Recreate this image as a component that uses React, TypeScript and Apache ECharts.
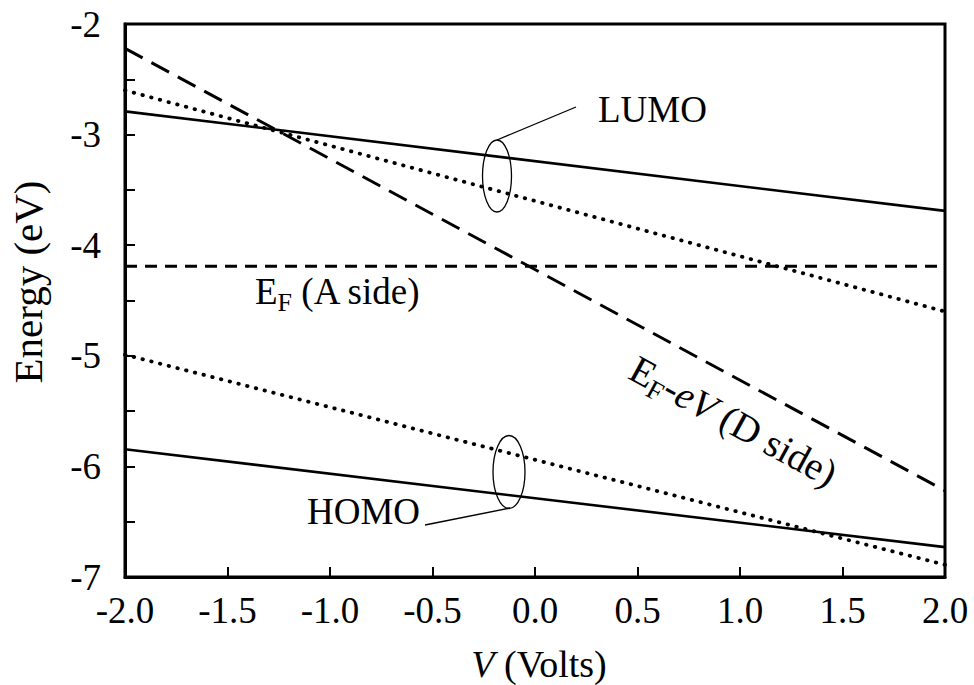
import React, { useEffect, useRef } from "react";
import * as echarts from "echarts";

// ---- data ----
const voltage = [-2.0, 2.0];
const lumoSolid = [-2.79, -3.69];
const lumoDotted = [-2.6, -4.6];
const efASide = [-4.19, -4.19];
const efDSide = [-2.22, -6.22];
const homoDotted = [-4.99, -6.89];
const homoSolid = [-5.845, -6.73];

const xTicks = { min: -2, max: 2, interval: 0.5 };
const yTicks = { min: -7, max: -2, interval: 0.5 };

const FONT = "'Liberation Serif', 'Times New Roman', serif";

function pairs(ys: number[]) {
  return voltage.map((v, i) => [v, ys[i]]);
}

let measureCtx: CanvasRenderingContext2D | null = null;
function tw(text: string, size: number, italic = false) {
  if (!measureCtx) measureCtx = document.createElement("canvas").getContext("2d");
  measureCtx!.font = `${italic ? "italic " : ""}${size}px ${FONT}`;
  return measureCtx!.measureText(text).width;
}

type Part = { t: string; size: number; italic?: boolean; dy?: number };
function pieces(parts: Part[]) {
  let x = 0;
  const children: any[] = [];
  parts.forEach((p) => {
    children.push({
      type: "text",
      x,
      y: p.dy || 0,
      style: {
        text: p.t,
        fontSize: p.size,
        fontFamily: FONT,
        fontStyle: p.italic ? "italic" : "normal",
        fill: "#000",
        align: "left",
        verticalAlign: "middle",
      },
    });
    x += tw(p.t, p.size, p.italic);
  });
  return { children, width: x };
}

export default function App() {
  const ref = useRef<HTMLDivElement>(null);
  useEffect(() => {
    if (!ref.current) return;
    const chart = echarts.init(ref.current, null, { renderer: "svg" });

    const efA = pieces([
      { t: "E", size: 37 },
      { t: "F", size: 26, dy: 11 },
      { t: " (A side)", size: 37 },
    ]);
    const efD = pieces([
      { t: "E", size: 39 },
      { t: "F", size: 27, dy: 11 },
      { t: "-", size: 39 },
      { t: "eV", size: 39, italic: true },
      { t: " (D side)", size: 39 },
    ]);
    const xTitle = pieces([
      { t: "V", size: 38, italic: true },
      { t: " (Volts)", size: 38 },
    ]);

    const ell = (cx: number, cy: number, rx: number, ry: number) => ({
      type: "ellipse",
      shape: { cx, cy, rx, ry },
      style: { fill: "none", stroke: "#000", lineWidth: 1.3 },
      z: 100,
    });
    const seg = (x1: number, y1: number, x2: number, y2: number) => ({
      type: "line",
      shape: { x1, y1, x2, y2 },
      style: { stroke: "#000", lineWidth: 1.3 },
      z: 100,
    });
    const label = (text: string, x: number, y: number, size = 36) => ({
      type: "text",
      x,
      y,
      style: {
        text,
        fontSize: size,
        fontFamily: FONT,
        fill: "#000",
        align: "left",
        verticalAlign: "middle",
      },
      z: 100,
    });

    const lineSeries = (name: string, ys: number[], type: any, width: number, cap = "butt") => ({
      name,
      type: "line",
      data: pairs(ys),
      showSymbol: false,
      symbol: "none",
      lineStyle: { color: "#000", width, type, cap },
      z: 5,
    });

    chart.setOption({
      animation: false,
      backgroundColor: "#fff",
      grid: {
        left: 125,
        right: 29,
        top: 24,
        bottom: 108,
        show: true,
        borderColor: "#000",
        borderWidth: 3,
        backgroundColor: "transparent",
      },
      xAxis: {
        type: "value",
        min: xTicks.min,
        max: xTicks.max,
        interval: xTicks.interval,
        axisLine: { show: true, onZero: false, lineStyle: { color: "#000", width: 3 } },
        axisTick: { show: true, inside: true, length: 10, lineStyle: { color: "#000", width: 2 } },
        splitLine: { show: false },
        axisLabel: {
          color: "#000",
          fontSize: 37,
          fontFamily: FONT,
          margin: 15,
          formatter: (v: number) => v.toFixed(1),
        },
      },
      yAxis: {
        type: "value",
        min: yTicks.min,
        max: yTicks.max,
        interval: yTicks.interval,
        axisLine: { show: true, onZero: false, lineStyle: { color: "#000", width: 3 } },
        axisTick: { show: true, inside: true, length: 10, lineStyle: { color: "#000", width: 2 } },
        splitLine: { show: false },
        axisLabel: {
          color: "#000",
          fontSize: 37,
          fontFamily: FONT,
          margin: 24,
          formatter: (v: number) => (Math.abs(v - Math.round(v)) < 1e-9 ? String(Math.round(v)) : ""),
        },
      },
      series: [
        lineSeries("LUMO", lumoSolid, "solid", 2.6),
        lineSeries("LUMO dotted", lumoDotted, [0.5, 8.5], 3.8, "round"),
        lineSeries("EF (A side)", efASide, [12, 8], 3),
        lineSeries("EF-eV (D side)", efDSide, [20, 10], 3),
        lineSeries("HOMO dotted", homoDotted, [0.5, 8.5], 3.8, "round"),
        lineSeries("HOMO", homoSolid, "solid", 2.6),
      ],
      graphic: [
        ell(497, 176, 14.5, 36),
        seg(497, 140, 576, 107),
        label("LUMO", 598, 109, 37),
        ell(509, 472, 16, 36.5),
        seg(510, 508, 425, 525),
        label("HOMO", 307, 511, 37),
        { type: "group", x: 255, y: 291, children: efA.children, z: 100 },
        { type: "group", x: 633, y: 366, rotation: -0.5, children: efD.children, z: 100 },
        {
          type: "text",
          x: 28,
          y: 282,
          rotation: Math.PI / 2,
          style: {
            text: "Energy (eV)",
            fontSize: 41,
            fontFamily: FONT,
            fill: "#000",
            align: "center",
            verticalAlign: "middle",
          },
        },
        { type: "group", x: 539 - xTitle.width / 2, y: 664, children: xTitle.children },
      ],
    });
    return () => chart.dispose();
  }, []);
  return (
    <div
      ref={ref}
      style={{ position: "fixed", left: 0, top: 0, width: 974, height: 685, background: "#fff" }}
    />
  );
}
